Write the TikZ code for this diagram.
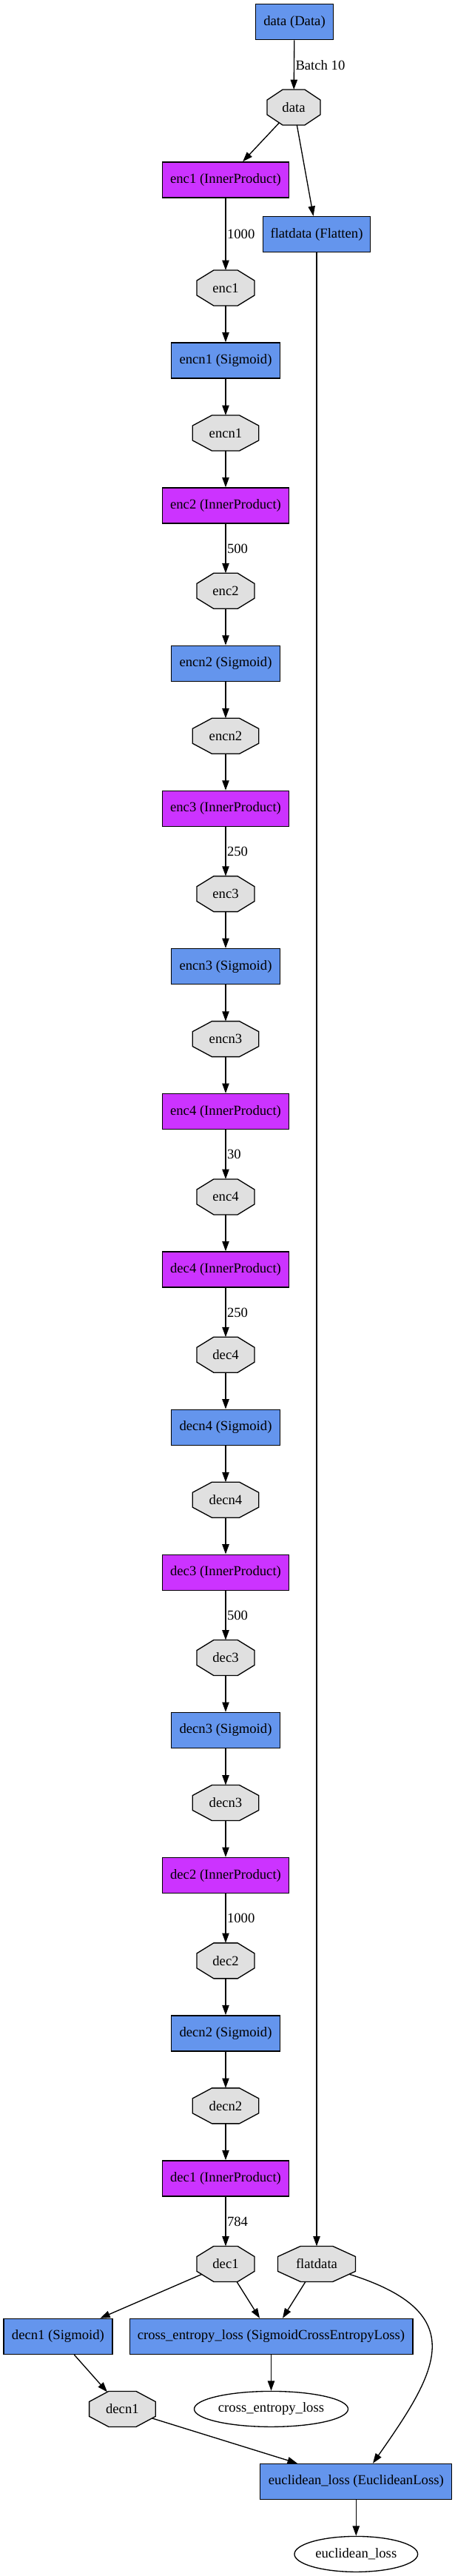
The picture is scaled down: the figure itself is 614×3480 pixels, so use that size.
\documentclass[tikz,border=0pt]{standalone}
\usepackage{fontspec}
\setmainfont{Liberation Serif}
\usetikzlibrary{shapes.geometric, arrows.meta}
\definecolor{layerblue}{HTML}{6495ED}
\definecolor{ipmag}{HTML}{CC33FF}
\definecolor{blobgray}{HTML}{E0E0E0}
\makeatletter
\newdimen\gvL \newdimen\gvR \newdimen\gvB \newdimen\gvT
\newdimen\gvCX \newdimen\gvCY \newdimen\gvDX \newdimen\gvDY
\newdimen\gvHA \newdimen\gvHB
\pgfdeclareshape{gvoctagon}{%
  \inheritsavedanchors[from=rectangle]%
  \inheritanchor[from=rectangle]{center}%
  \inheritanchor[from=rectangle]{north}%
  \inheritanchor[from=rectangle]{south}%
  \inheritanchor[from=rectangle]{east}%
  \inheritanchor[from=rectangle]{west}%
  \inheritanchor[from=rectangle]{north east}%
  \inheritanchor[from=rectangle]{north west}%
  \inheritanchor[from=rectangle]{south east}%
  \inheritanchor[from=rectangle]{south west}%
  \inheritanchor[from=rectangle]{text}%
  \inheritanchor[from=rectangle]{base}%
  \inheritanchor[from=rectangle]{mid}%
  \anchorborder{%
    \gvDX=\pgf@x \gvDY=\pgf@y
    \southwest \gvL=\pgf@x \gvB=\pgf@y
    \northeast \gvR=\pgf@x \gvT=\pgf@y
    \gvHA=\gvR \advance\gvHA by -\gvL \gvHA=0.5\gvHA
    \gvHB=\gvT \advance\gvHB by -\gvB \gvHB=0.5\gvHB
    \gvCX=\gvL \advance\gvCX by \gvHA
    \gvCY=\gvB \advance\gvCY by \gvHB
    \pgfmathsetmacro\gv@k{max(0.00001,abs(\strip@pt\gvDX)/\strip@pt\gvHA,abs(\strip@pt\gvDY)/\strip@pt\gvHB,(abs(\strip@pt\gvDX)/\strip@pt\gvHA+abs(\strip@pt\gvDY)/\strip@pt\gvHB)/1.41421)}%
    \pgfmathsetmacro\gv@x{\strip@pt\gvCX+(\strip@pt\gvDX)/\gv@k}%
    \pgfmathsetmacro\gv@y{\strip@pt\gvCY+(\strip@pt\gvDY)/\gv@k}%
    \pgf@x=\gv@x pt\relax
    \pgf@y=\gv@y pt\relax
  }%
  \backgroundpath{%
    \southwest \gvL=\pgf@x \gvB=\pgf@y
    \northeast \gvR=\pgf@x \gvT=\pgf@y
    \gvCX=\gvR \advance\gvCX by -\gvL \gvCX=0.29289\gvCX
    \gvCY=\gvT \advance\gvCY by -\gvB \gvCY=0.29289\gvCY
    \pgfpathmoveto{\pgfpoint{\gvL+\gvCX}{\gvB}}%
    \pgfpathlineto{\pgfpoint{\gvR-\gvCX}{\gvB}}%
    \pgfpathlineto{\pgfpoint{\gvR}{\gvB+\gvCY}}%
    \pgfpathlineto{\pgfpoint{\gvR}{\gvT-\gvCY}}%
    \pgfpathlineto{\pgfpoint{\gvR-\gvCX}{\gvT}}%
    \pgfpathlineto{\pgfpoint{\gvL+\gvCX}{\gvT}}%
    \pgfpathlineto{\pgfpoint{\gvL}{\gvT-\gvCY}}%
    \pgfpathlineto{\pgfpoint{\gvL}{\gvB+\gvCY}}%
    \pgfpathclose
  }%
}
\makeatother
\tikzset{
  every node/.style={font=\fontsize{14}{16}\selectfont},
  lay/.style={rectangle, draw=black, line width=1pt, fill=layerblue, minimum height=36pt, inner sep=2pt},
  ipl/.style={lay, fill=ipmag, minimum width=128.25pt},
  sigl/.style={lay, minimum width=110.25pt},
  blob/.style={gvoctagon, draw=black, line width=1pt, fill=blobgray, minimum height=36pt, inner sep=2pt, outer sep=0pt},
  encb/.style={blob, minimum width=58.5pt},
  encnb/.style={blob, minimum width=67.2pt},
  lossb/.style={ellipse, draw=black, line width=1pt, fill=white, minimum height=36pt, inner sep=0pt},
  edge/.style={draw=black, line width=1pt, -{Triangle[length=10pt,width=7pt]}},
  elabel/.style={anchor=west, inner sep=0pt, xshift=1pt},
}
\begin{document}
\begin{tikzpicture}[x=0.75pt, y=-0.75pt]
\useasboundingbox (0,0) rectangle (614,3480);
% nodes
\node[lay, minimum width=78.75pt] (datal) at (398,29.7) {data (Data)};
\node[blob, minimum width=54pt] (data) at (397,145) {data};
\node[ipl] (enc1l) at (305,243) {enc1 (InnerProduct)};
\node[lay, minimum width=108.75pt] (flatl) at (428,316.5) {flatdata (Flatten)};
\node[encb] (enc1) at (305,389) {enc1};
\node[sigl] (encn1l) at (305,487) {encn1 (Sigmoid)};
\node[encnb] (encn1) at (305,585) {encn1};
\node[ipl] (enc2l) at (305,683) {enc2 (InnerProduct)};
\node[encb] (enc2) at (305,798.3) {enc2};
\node[sigl] (encn2l) at (305,896.3) {encn2 (Sigmoid)};
\node[encnb] (encn2) at (305,994.3) {encn2};
\node[ipl] (enc3l) at (305,1092.3) {enc3 (InnerProduct)};
\node[encb] (enc3) at (305,1207.6) {enc3};
\node[sigl] (encn3l) at (305,1305.6) {encn3 (Sigmoid)};
\node[encnb] (encn3) at (305,1403.6) {encn3};
\node[ipl] (enc4l) at (305,1501.6) {enc4 (InnerProduct)};
\node[encb] (enc4) at (305,1616.9) {enc4};
\node[ipl] (dec4l) at (305,1714.9) {dec4 (InnerProduct)};
\node[encb] (dec4) at (305,1830.2) {dec4};
\node[sigl] (decn4l) at (305,1928.2) {decn4 (Sigmoid)};
\node[encnb] (decn4) at (305,2026.2) {decn4};
\node[ipl] (dec3l) at (305,2124.2) {dec3 (InnerProduct)};
\node[encb] (dec3) at (305,2239.5) {dec3};
\node[sigl] (decn3l) at (305,2337.5) {decn3 (Sigmoid)};
\node[encnb] (decn3) at (305,2435.5) {decn3};
\node[ipl] (dec2l) at (305,2533.5) {dec2 (InnerProduct)};
\node[encb] (dec2) at (305,2648.8) {dec2};
\node[sigl] (decn2l) at (305,2746.8) {decn2 (Sigmoid)};
\node[encnb] (decn2) at (305,2844.8) {decn2};
\node[ipl] (dec1l) at (305,2942.8) {dec1 (InnerProduct)};
\node[encb] (dec1) at (305,3058.4) {dec1};
\node[blob, minimum width=78.75pt] (flat) at (428,3058.4) {flatdata};
\node[sigl] (decn1l) at (78.4,3156.4) {decn1 (Sigmoid)};
\node[lay, minimum width=287pt] (xentl) at (366.5,3156.4) {cross\_entropy\_loss (SigmoidCrossEntropyLoss)};
\node[encnb] (decn1) at (165.4,3254.4) {decn1};
\node[lossb, minimum width=156pt] (xent) at (366.5,3254.4) {cross\_entropy\_loss};
\node[lay, minimum width=194.25pt] (euclidl) at (481.3,3352.4) {euclidean\_loss (EuclideanLoss)};
\node[lossb, minimum width=125pt] (euclid) at (481.3,3450.4) {euclidean\_loss};
% edges
\draw[edge] (datal) -- node[elabel, midway] {Batch 10} (data);
\draw[edge] (data) -- (enc1l);
\draw[edge] (data) -- (flatl);
\draw[edge] (enc1l) -- node[elabel, midway] {1000} (enc1);
\draw[edge] (enc1) -- (encn1l);
\draw[edge] (encn1l) -- (encn1);
\draw[edge] (encn1) -- (enc2l);
\draw[edge] (enc2l) -- node[elabel, midway] {500} (enc2);
\draw[edge] (enc2) -- (encn2l);
\draw[edge] (encn2l) -- (encn2);
\draw[edge] (encn2) -- (enc3l);
\draw[edge] (enc3l) -- node[elabel, midway] {250} (enc3);
\draw[edge] (enc3) -- (encn3l);
\draw[edge] (encn3l) -- (encn3);
\draw[edge] (encn3) -- (enc4l);
\draw[edge] (enc4l) -- node[elabel, midway] {30} (enc4);
\draw[edge] (enc4) -- (dec4l);
\draw[edge] (dec4l) -- node[elabel, midway] {250} (dec4);
\draw[edge] (dec4) -- (decn4l);
\draw[edge] (decn4l) -- (decn4);
\draw[edge] (decn4) -- (dec3l);
\draw[edge] (dec3l) -- node[elabel, midway] {500} (dec3);
\draw[edge] (dec3) -- (decn3l);
\draw[edge] (decn3l) -- (decn3);
\draw[edge] (decn3) -- (dec2l);
\draw[edge] (dec2l) -- node[elabel, midway] {1000} (dec2);
\draw[edge] (dec2) -- (decn2l);
\draw[edge] (decn2l) -- (decn2);
\draw[edge] (decn2) -- (dec1l);
\draw[edge] (dec1l) -- node[elabel, midway] {784} (dec1);
\draw[edge] (flatl) -- (flat);
\draw[edge] (dec1) -- (decn1l);
\draw[edge] (dec1) -- (xentl);
\draw[edge] (flat) -- (xentl);
\draw[edge] (flat) .. controls (640,3125) and (590,3205) .. ([xshift=17pt]euclidl.north);
\draw[edge] (decn1l) -- (decn1);
\draw[edge] (decn1) -- (euclidl);
\draw[edge] (xentl) -- (xent);
\draw[edge] (euclidl) -- (euclid);
\end{tikzpicture}
\end{document}
